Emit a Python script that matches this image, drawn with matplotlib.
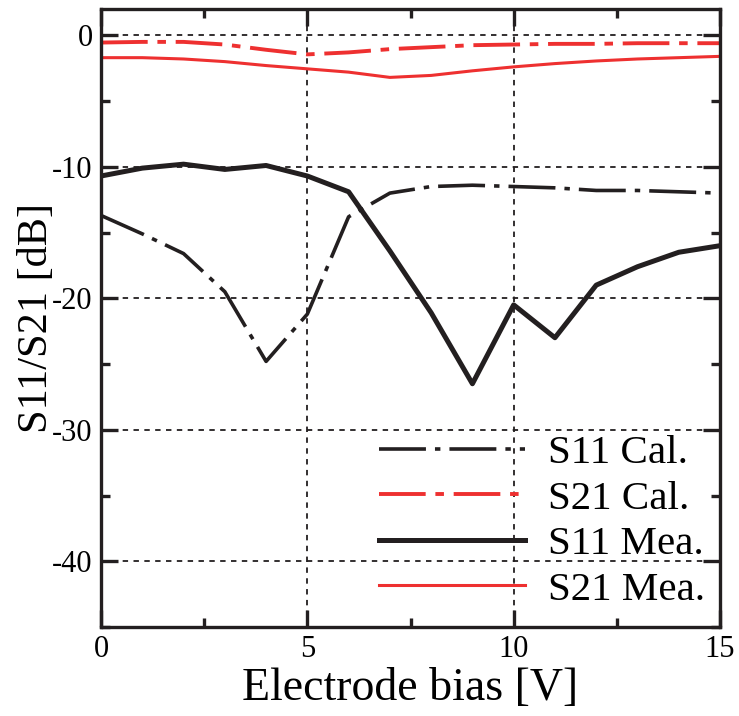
import numpy as np
import matplotlib
matplotlib.use('Agg')
import matplotlib.pyplot as plt
from matplotlib.ticker import MultipleLocator

# данные
bias = [0, 1, 2, 3, 4, 5, 6, 7, 8, 9, 10, 11, 12, 13, 14, 15]
s11_cal = [-13.7, -15.1, -16.6, -19.5, -24.8, -21.2, -13.8, -12.0, -11.5, -11.4, -11.5, -11.6, -11.8, -11.8, -11.9, -12.0]
s21_cal = [-0.55, -0.5, -0.5, -0.7, -1.1, -1.45, -1.3, -1.05, -0.9, -0.75, -0.7, -0.65, -0.65, -0.6, -0.6, -0.6]
s11_mea = [-10.7, -10.1, -9.8, -10.2, -9.9, -10.7, -11.9, -16.4, -21.1, -26.5, -20.5, -23.0, -19.0, -17.6, -16.5, -16.0]
s21_mea = [-1.7, -1.7, -1.8, -2.0, -2.3, -2.55, -2.8, -3.2, -3.05, -2.7, -2.4, -2.15, -1.95, -1.8, -1.7, -1.6]

RED = '#ee3030'

plt.rcParams['font.family'] = 'Liberation Serif'
plt.rcParams['axes.unicode_minus'] = False

fig = plt.figure(figsize=(7.39, 7.16), dpi=100)
ax = fig.add_axes([0.1367, 0.1243, 0.8376, 0.8631])

ax.plot(bias, s11_cal, color='#231f20', lw=2.6, linestyle=(0, (13, 2.5, 1.5, 2.5)), label='S11 Cal.')
ax.plot(bias, s21_cal, color=RED, lw=2.8, linestyle=(0, (12, 2.5, 2.2, 2.5)), label='S21 Cal.')
ax.plot(bias, s11_mea, color='#231f20', lw=3.6, label='S11 Mea.')
ax.plot(bias, s21_mea, color=RED, lw=2.2, label='S21 Mea.')

ax.set_xlim(0, 15)
ax.set_ylim(-45, 2)
ax.xaxis.set_major_locator(MultipleLocator(5))
ax.xaxis.set_minor_locator(MultipleLocator(2.5))
ax.yaxis.set_minor_locator(MultipleLocator(5))
ax.set_yticks([0, -10, -20, -30, -40])

ax.grid(True, which='major', color='#231f20', lw=1.3, linestyle=(0, (3, 3)))
for s in ax.spines.values():
    s.set_linewidth(2.4)
    s.set_color('#231f20')
ax.tick_params(which='both', direction='in', top=True, right=True, width=2.4,
               color='#231f20', labelsize=22, pad=6)
ax.tick_params(which='major', length=12)
ax.tick_params(which='minor', length=6.5)

ax.set_xlabel('Electrode bias [V]', fontsize=33, labelpad=2)
ax.set_ylabel('S11/S21 [dB]', fontsize=30.5)
ax.yaxis.set_label_coords(-0.073, 0.5)

ax.legend(loc='lower right', frameon=False, fontsize=29.5, handlelength=3.55,
          handletextpad=0.56, labelspacing=0.19, borderaxespad=0.0,
          bbox_to_anchor=(1.002, 0.003))

fig.savefig('out.png', dpi=100)
